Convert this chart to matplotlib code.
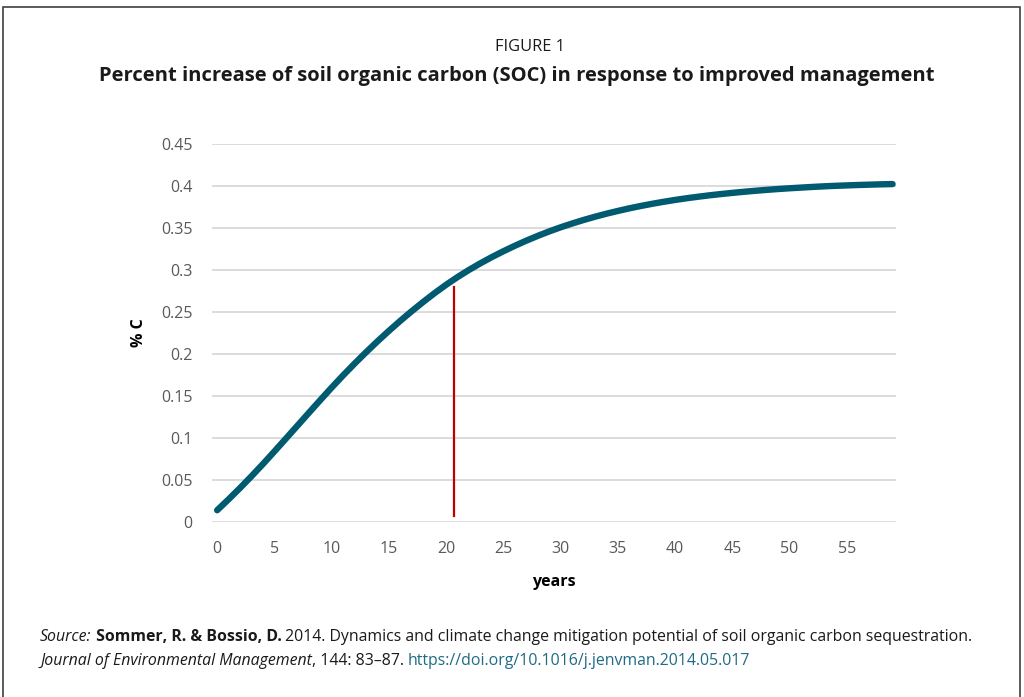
import matplotlib
matplotlib.use("Agg")
import matplotlib.pyplot as plt
from matplotlib.patches import Rectangle

years = list(range(0, 60))
soc_pct = [0.0140, 0.0270, 0.0405, 0.0545, 0.0690, 0.0840, 0.0992, 0.1145, 0.1298, 0.1450,
           0.1600, 0.1745, 0.1885, 0.2020, 0.2150, 0.2275, 0.2395, 0.2510, 0.2620, 0.2725,
           0.2824, 0.2916, 0.3001, 0.3080, 0.3154, 0.3223, 0.3288, 0.3349, 0.3406, 0.3459,
           0.3508, 0.3553, 0.3595, 0.3634, 0.3670, 0.3703, 0.3734, 0.3762, 0.3788, 0.3812,
           0.3834, 0.3854, 0.3872, 0.3889, 0.3904, 0.3918, 0.3931, 0.3943, 0.3954, 0.3964,
           0.3973, 0.3981, 0.3989, 0.3996, 0.4002, 0.4007, 0.4012, 0.4016, 0.4020, 0.4023]
marker_year = 20.65
marker_bottom = 0.007
marker_top = 0.280
x_ticks = list(range(0, 60, 5))
y_ticks = [0, 0.05, 0.1, 0.15, 0.2, 0.25, 0.3, 0.35, 0.4, 0.45]
y_tick_labels = ["0", "0.05", "0.1", "0.15", "0.2", "0.25", "0.3", "0.35", "0.4", "0.45"]

plt.rcParams['font.family'] = ['Open Sans', 'DejaVu Sans']

W, H = 1024, 697
fig = plt.figure(figsize=(W / 100, H / 100), dpi=100)

# frame
fig.add_artist(Rectangle((3 / W, -0.01), (1020 - 3) / W, (H - 7) / H + 0.01,
                         transform=fig.transFigure, fill=False,
                         edgecolor="#404040", linewidth=1.2))

ax = fig.add_axes([212 / W, 1 - 522 / H, (896 - 212) / W, (522 - 144) / H])
ax.set_xlim(-0.45, 59.3)
ax.set_ylim(0, 0.45)
for s in ax.spines.values():
    s.set_visible(False)
ax.set_yticks(y_ticks)
ax.set_yticklabels(y_tick_labels)
ax.set_xticks(x_ticks)
ax.tick_params(length=0, labelsize=11.5, labelcolor="#595959")
ax.tick_params(axis="y", pad=14)
ax.tick_params(axis="x", pad=14)
ax.grid(axis="y", color="#d9d9d9", linewidth=1.3)
ax.set_axisbelow(True)

ax.plot(years, soc_pct, color="#005a70", linewidth=4.6, solid_capstyle="round", zorder=3)
ax.plot([marker_year, marker_year], [marker_bottom, marker_top], color="#c00000",
        linewidth=1.6, zorder=2)

ax.set_ylabel("% C", fontsize=11.5, fontweight="bold", labelpad=10)
ax.set_xlabel("years", fontsize=11.5, fontweight="bold", labelpad=12)

fig.text(530 / W, 1 - 47 / H, "FIGURE 1", ha="center", va="center", fontsize=11.8, color="#1a1a1a")
fig.text(517 / W, 1 - 76 / H,
         "Percent increase of soil organic carbon (SOC) in response to improved management",
         ha="center", va="center", fontsize=14.5, fontweight="bold", color="#1a1a1a")

# source with mixed styles
fig.canvas.draw()
renderer = fig.canvas.get_renderer()

def draw_pieces(x_px, y_px, pieces, size):
    x = x_px
    for txt, kw in pieces:
        t = fig.text(x / W, 1 - y_px / H, txt, ha="left", va="center", fontsize=size, **kw)
        bb = t.get_window_extent(renderer=renderer)
        x += bb.width

draw_pieces(40, 637, [
    ("Source:", dict(style="italic", color="#1a1a1a")),
    (" Sommer, R. & Bossio, D.", dict(fontweight="bold", color="#1a1a1a")),
    (" 2014. Dynamics and climate change mitigation potential of soil organic carbon sequestration.",
     dict(color="#1a1a1a")),
], 11.4)
draw_pieces(40, 661, [
    ("Journal of Environmental Management", dict(style="italic", color="#1a1a1a")),
    (", 144: 83\u201387. ", dict(color="#1a1a1a")),
    ("https://doi.org/10.1016/j.jenvman.2014.05.017", dict(color="#1f6b86")),
], 11.4)

fig.savefig("out.png", dpi=100)
